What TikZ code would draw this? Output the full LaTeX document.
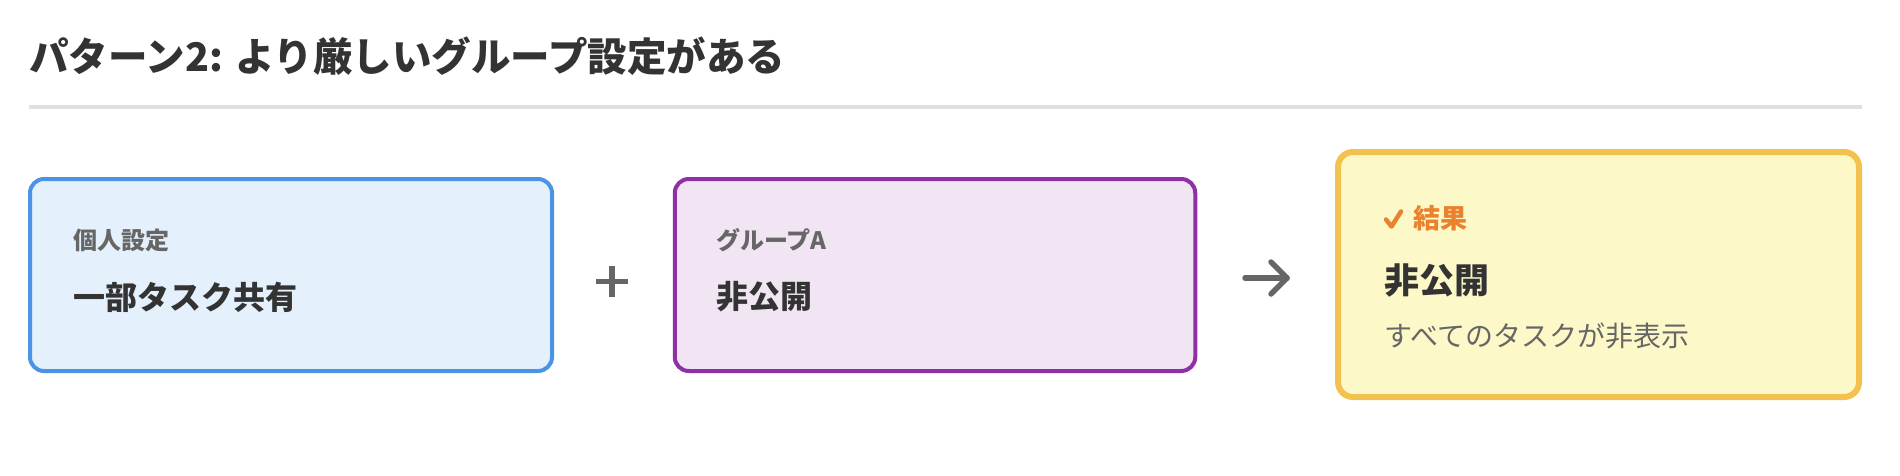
\documentclass[tikz,border=0pt]{standalone}
\usepackage{fontspec}
\setmainfont{Noto Sans CJK JP}
\usetikzlibrary{positioning}
\definecolor{inkdark}{HTML}{333333}
\definecolor{inkgray}{HTML}{666666}
\definecolor{rulegray}{HTML}{E0E0E0}
\definecolor{blueline}{HTML}{4A94E6}
\definecolor{bluefill}{HTML}{E4F1FC}
\definecolor{purpleline}{HTML}{9030A8}
\definecolor{purplefill}{HTML}{F1E4F3}
\definecolor{goldline}{HTML}{F2C14E}
\definecolor{goldfill}{HTML}{FDF8C8}
\definecolor{orangetext}{HTML}{E8822E}

\begin{document}
\begin{tikzpicture}[x=1pt,y=-1pt,
    card/.style={draw, rounded corners=14pt, line width=4pt, inner sep=0pt},
    cardlabel/.style={anchor=west, inner sep=0pt, text=inkgray, font=\bfseries\fontsize{24}{28}\selectfont},
    cardvalue/.style={anchor=west, inner sep=0pt, text=inkdark, font=\bfseries\fontsize{32}{36}\selectfont},
    operator/.style={inkgray, line width=5.5pt}]
  \useasboundingbox (0, 0) rectangle (1900, 476);
  \node[anchor=west, inner sep=0pt, text=inkdark, font=\bfseries\fontsize{39.5}{44}\selectfont] (title) at (29, 56) {パターン2: より厳しいグループ設定がある};
  \draw[rulegray, line width=4pt] (29, 107) -- (1862, 107);
  \node[card, draw=blueline, fill=bluefill, minimum width=522pt, minimum height=192pt] (personal) at (291, 275) {};
  \node[card, draw=purpleline, fill=purplefill, minimum width=520.5pt, minimum height=192pt] (group) at (935, 275) {};
  \node[card, draw=goldline, fill=goldfill, line width=6pt, rounded corners=15pt, minimum width=521pt, minimum height=245pt] (result) at (1598.5, 274.5) {};
  \coordinate (plus) at (612, 281.5);
  \draw[operator] ([xshift=-16pt]plus) -- ([xshift=16pt]plus);
  \draw[operator] ([yshift=-15.5pt]plus) -- ([yshift=15.5pt]plus);
  \coordinate (arrowtail) at (1245, 278);
  \coordinate (arrowhead) at (1287, 278);
  \draw[operator, line cap=round, line join=round] (arrowtail) -- (arrowhead);
  \draw[operator, line cap=round, line join=round] ([shift={(-16,-16)}]arrowhead) -- (arrowhead) -- ([shift={(-16,16)}]arrowhead);
  \node[cardlabel] (personallabel) at (73, 240) {個人設定};
  \node[cardvalue] (personalvalue) at (73, 297) {一部タスク共有};
  \node[cardlabel] (grouplabel) at (716, 240) {グループA};
  \node[cardvalue] (groupvalue) at (716, 297) {非公開};
  \node[cardlabel, text=orangetext, font=\bfseries\fontsize{27}{30}\selectfont] (resultlabel) at (1413, 218) {結果};
  \coordinate (checkmark) at (1391.5, 226.5);
  \draw[orangetext, line width=4.5pt, line cap=round, line join=round] ([shift={(-5.5,-7)}]checkmark) -- (checkmark) -- ([shift={(9.5,-15)}]checkmark);
  \node[cardvalue, font=\bfseries\fontsize{35}{40}\selectfont] (resultvalue) at (1384, 281) {非公開};
  \node[anchor=west, inner sep=0pt, text=inkgray, font=\fontsize{28}{32}\selectfont] (resultnote) at (1384, 336) {すべてのタスクが非表示};
\end{tikzpicture}
\end{document}
